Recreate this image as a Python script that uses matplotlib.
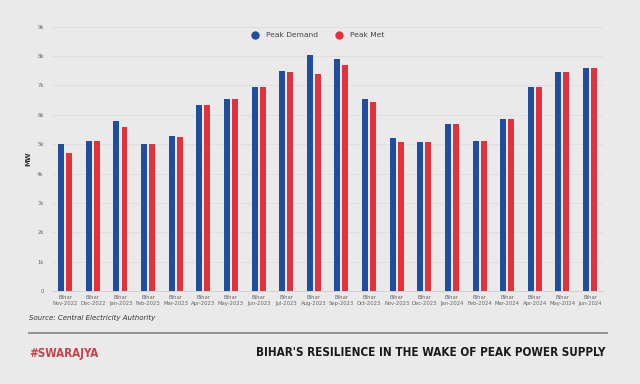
import matplotlib
matplotlib.use('Agg')
from matplotlib import pyplot as plt
from matplotlib.lines import Line2D
import numpy as np

months = ['Nov-2022', 'Dec-2022', 'Jan-2023', 'Feb-2023', 'Mar-2023', 'Apr-2023',
          'May-2023', 'Jun-2023', 'Jul-2023', 'Aug-2023', 'Sep-2023', 'Oct-2023',
          'Nov-2023', 'Dec-2023', 'Jan-2024', 'Feb-2024', 'Mar-2024', 'Apr-2024',
          'May-2024', 'Jun-2024']
peak_demand = [4990, 5100, 5780, 5010, 5270, 6350, 6550, 6960, 7490, 8030,
               7890, 6550, 5200, 5070, 5690, 5100, 5850, 6930, 7460, 7590]
peak_met = [4690, 5110, 5580, 4990, 5250, 6350, 6550, 6960, 7470, 7400,
            7690, 6430, 5070, 5070, 5690, 5100, 5850, 6930, 7450, 7580]
y_ticks = [0, 1000, 2000, 3000, 4000, 5000, 6000, 7000, 8000, 9000]
y_tick_labels = ['0', '1k', '2k', '3k', '4k', '5k', '6k', '7k', '8k', '9k']

BG = '#eaeaea'
BLUE = '#1f4e9c'
RED = '#e3323b'

fig = plt.figure(figsize=(6.4, 3.84), dpi=100, facecolor=BG)
ax = fig.add_axes([52 / 640, 93 / 384, 551 / 640, (291 - 26.7) / 384])
ax.set_facecolor(BG)

x = np.arange(len(months))
w = 0.217
off = 0.145
ax.bar(x - off, peak_demand, width=w, color=BLUE, zorder=3)
ax.bar(x + off, peak_met, width=w, color=RED, zorder=3)

ax.set_xlim(-0.48, 19.47)
ax.set_ylim(0, 9000)
ax.set_yticks(y_ticks)
ax.set_yticklabels(y_tick_labels)
ax.set_xticks(x)
ax.set_xticklabels(['Bihar\n' + m for m in months], linespacing=1.3)
ax.tick_params(axis='both', length=0, labelsize=3.8, labelcolor='#666666')
ax.tick_params(axis='y', pad=6)
ax.tick_params(axis='x', pad=3)
ax.grid(axis='y', color='#dedede', linewidth=0.6, zorder=0)
for s in ['top', 'right', 'left']:
    ax.spines[s].set_visible(False)
ax.spines['bottom'].set_color('#cccccc')
ax.spines['bottom'].set_linewidth(0.6)
ax.set_ylabel('MW', fontsize=5, fontweight='bold', color='#333333', labelpad=4)

handles = [Line2D([], [], marker='o', linestyle='none', markersize=5, color=BLUE),
           Line2D([], [], marker='o', linestyle='none', markersize=5, color=RED)]
fig.legend(handles, ['Peak Demand', 'Peak Met'], loc='center', ncol=2,
           bbox_to_anchor=(316 / 640, 1 - 35 / 384), frameon=False,
           fontsize=5.4, handletextpad=0.4, columnspacing=1.9, labelcolor='#444444')

fig.text(29 / 640, 1 - 318 / 384, 'Source: Central Electricity Authority',
         fontsize=5.0, style='italic', color='#333333', va='center', ha='left')
fig.add_artist(Line2D([29 / 640, 607 / 640], [1 - 332.7 / 384] * 2,
                      transform=fig.transFigure, color='#8a8a8a', linewidth=1.3))
fig.text(29 / 640, 1 - 353 / 384, '#SWARAJYA', fontsize=8.3, fontweight='bold',
         fontstretch='condensed', color='#c9414b', va='center', ha='left')
fig.text(606 / 640, 1 - 353 / 384, "BIHAR'S RESILIENCE IN THE WAKE OF PEAK POWER SUPPLY",
         fontsize=8.4, fontweight='bold', fontstretch='condensed', color='#1a1a1a',
         va='center', ha='right')

fig.savefig('out.png', dpi=100, facecolor=BG)
